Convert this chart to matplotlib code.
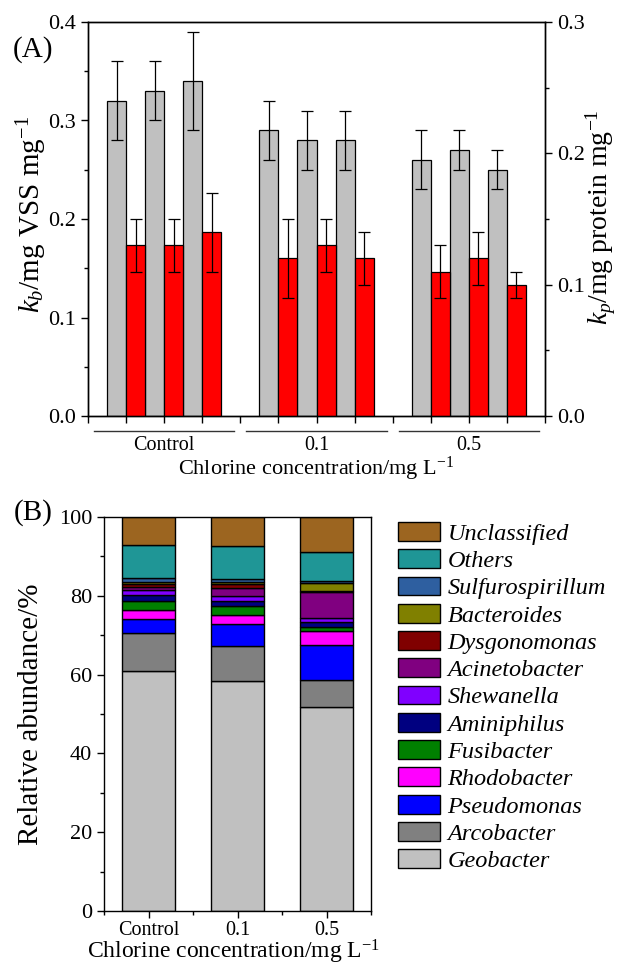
import matplotlib
matplotlib.use("Agg")
import matplotlib.pyplot as plt
from matplotlib.patches import Patch
from matplotlib.ticker import MultipleLocator
import matplotlib.transforms as mtransforms
import numpy as np

plt.rcParams['font.family'] = ['Liberation Serif', 'DejaVu Serif']
plt.rcParams['mathtext.fontset'] = 'custom'
plt.rcParams['mathtext.rm'] = 'Liberation Serif'
plt.rcParams['mathtext.it'] = 'Liberation Serif:italic'
plt.rcParams['axes.linewidth'] = 1.0

# ---------------- Panel A data ----------------
groups = ["Control", "0.1", "0.5"]
kb_values = [0.32, 0.33, 0.34, 0.29, 0.28, 0.28, 0.26, 0.27, 0.25]
kb_errors = [0.04, 0.03, 0.05, 0.03, 0.03, 0.03, 0.03, 0.02, 0.02]
kp_values = [0.13, 0.13, 0.14, 0.12, 0.13, 0.12, 0.11, 0.12, 0.10]
kp_errors = [0.02, 0.02, 0.03, 0.03, 0.02, 0.02, 0.02, 0.02, 0.01]

# ---------------- Panel B data ----------------
conc_labels = ["Control", "0.1", "0.5"]
taxa = ["Geobacter", "Arcobacter", "Pseudomonas", "Rhodobacter", "Fusibacter",
        "Aminiphilus", "Shewanella", "Acinetobacter", "Dysgonomonas",
        "Bacteroides", "Sulfurospirillum", "Others", "Unclassified"]
geobacter = [61.0, 58.5, 51.7]
arcobacter = [9.6, 8.8, 6.9]
pseudomonas = [3.6, 5.5, 8.9]
rhodobacter = [2.2, 2.4, 3.6]
fusibacter = [2.2, 2.1, 1.1]
aminiphilus = [1.7, 1.5, 1.2]
shewanella = [1.2, 1.2, 0.9]
acinetobacter = [0.8, 2.0, 6.6]
dysgonomonas = [0.7, 1.0, 0.3]
bacteroides = [0.6, 0.6, 2.1]
sulfurospirillum = [0.8, 0.7, 0.5]
others = [8.4, 8.3, 7.4]
unclassified = [7.2, 7.4, 8.8]
abundance = [geobacter, arcobacter, pseudomonas, rhodobacter, fusibacter,
             aminiphilus, shewanella, acinetobacter, dysgonomonas,
             bacteroides, sulfurospirillum, others, unclassified]
taxa_colors = ["#c0c0c0", "#808080", "#0000ff", "#ff00ff", "#008000",
               "#000080", "#8000ff", "#800080", "#800000",
               "#808000", "#2e5fa0", "#1f9696", "#9c6520"]

W, H = 617, 972
fig = plt.figure(figsize=(W / 100, H / 100), dpi=100)


def frac(l, t, r, b):
    return [l / W, 1 - b / H, (r - l) / W, (b - t) / H]


# ================= Panel A =================
ax = fig.add_axes(frac(88, 22, 545, 416))
ax2 = ax.twinx()

bw = 0.5
pos_gray = []
pos_red = []
for g in range(3):
    for k in range(3):
        base = 4 * g + k
        pos_gray.append(base + 0.75)
        pos_red.append(base + 1.25)

err_style = dict(ecolor="black", elinewidth=0.9, capsize=4, capthick=0.9)
ax.bar(pos_gray, kb_values, width=bw, color="#c0c0c0", edgecolor="black",
       linewidth=0.9, yerr=kb_errors, error_kw=err_style, zorder=2)
ax2.bar(pos_red, kp_values, width=bw, color="#ff0000", edgecolor="black",
        linewidth=0.9, yerr=kp_errors, error_kw=err_style, zorder=2)

ax.set_xlim(0, 12)
ax.yaxis.set_major_locator(MultipleLocator(0.1))
ax.yaxis.set_minor_locator(MultipleLocator(0.05))
ax2.yaxis.set_major_locator(MultipleLocator(0.1))
ax2.yaxis.set_minor_locator(MultipleLocator(0.05))
ax.set_ylim(0, 0.4)
ax2.set_ylim(0, 0.3)
ax.yaxis.set_major_formatter(matplotlib.ticker.FormatStrFormatter("%.1f"))
ax2.yaxis.set_major_formatter(matplotlib.ticker.FormatStrFormatter("%.1f"))
ax.xaxis.set_major_locator(MultipleLocator(1))
ax.xaxis.set_major_formatter(matplotlib.ticker.NullFormatter())
for a in (ax, ax2):
    a.tick_params(axis="both", which="major", direction="out", length=5, width=1.0,
                  labelsize=16)
    a.tick_params(axis="both", which="minor", direction="out", length=3, width=1.0)

trans = mtransforms.blended_transform_factory(ax.transData, ax.transAxes)
for g, name in enumerate(groups):
    x0, x1 = 4 * g + 0.16, 4 * g + 3.84
    ax.plot([x0, x1], [-0.038, -0.038], transform=trans, color="#333333",
            linewidth=1.0, clip_on=False)
    ax.text(4 * g + 2, -0.074, name, transform=trans, ha="center", va="center",
            fontsize=14.5)
ax.text(6, -0.133, "Chlorine concentration/mg L$^{-1}$", transform=trans,
        ha="center", va="center", fontsize=16)

fig.text(32 / W, 1 - 214 / H, r"$k_b$/mg VSS mg$^{-1}$", rotation=90,
         ha="center", va="center", fontsize=21)
fig.text(601 / W, 1 - 217 / H, r"$k_p$/mg protein mg$^{-1}$", rotation=90,
         ha="center", va="center", fontsize=20)
fig.text(33 / W, 1 - 50 / H, "(A)", ha="center", va="center", fontsize=21)

# ================= Panel B =================
bx = fig.add_axes(frac(104, 517, 371, 911))
xpos = np.arange(len(conc_labels))
bottom = np.zeros(len(conc_labels))
for vals, col in zip(abundance, taxa_colors):
    bx.bar(xpos, vals, width=0.6, bottom=bottom, color=col, edgecolor="black",
           linewidth=1.0, zorder=2)
    bottom += np.array(vals)

bx.set_xlim(-0.5, 2.5)
bx.set_ylim(0, 100)
bx.set_xticks(xpos)
bx.set_xticklabels(conc_labels)
bx.xaxis.set_minor_locator(MultipleLocator(0.5))
bx.yaxis.set_major_locator(MultipleLocator(20))
bx.yaxis.set_minor_locator(MultipleLocator(10))
bx.tick_params(axis="y", which="major", direction="out", length=5, width=1.0, labelsize=16)
bx.tick_params(axis="y", which="minor", direction="out", length=3, width=1.0)
bx.tick_params(axis="x", which="major", direction="out", length=5, width=1.0,
               labelsize=14.5, pad=2)
bx.tick_params(axis="x", which="minor", direction="out", length=3, width=1.0)
fig.text(234 / W, 1 - 952 / H, "Chlorine concentration/mg L$^{-1}$",
         ha="center", va="center", fontsize=17)
fig.text(31 / W, 1 - 714 / H, "Relative abundance/%", rotation=90,
         ha="center", va="center", fontsize=21)
fig.text(33 / W, 1 - 513 / H, "(B)", ha="center", va="center", fontsize=21)

handles = [Patch(facecolor=c, edgecolor="black", linewidth=1.0, label=t)
           for t, c in zip(taxa, taxa_colors)][::-1]
fig.legend(handles=handles, loc="upper left", bbox_to_anchor=(398 / W, 1 - 522 / H),
           frameon=False, prop={"family": "Liberation Serif", "style": "italic", "size": 17.5},
           handlelength=1.73, handleheight=0.82, handletextpad=0.3, labelspacing=0.18,
           borderpad=0.0, borderaxespad=0.0)

fig.savefig("out.png", dpi=100)
